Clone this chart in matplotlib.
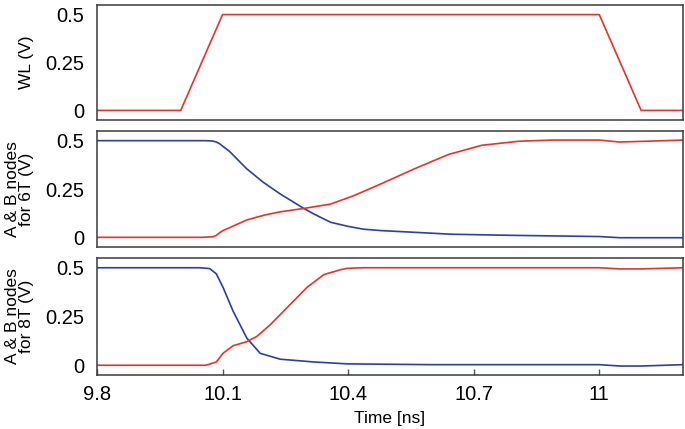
import matplotlib.pyplot as plt

plt.rcParams['font.family'] = ['Liberation Sans', 'DejaVu Sans']

# word line pulse
wl_t = [9.8, 10.0, 10.1, 11.0, 11.1, 11.2]
wl_v = [0, 0, 0.5, 0.5, 0, 0]

# 6T cell nodes
a6_t = [9.8, 10.06, 10.077, 10.085, 10.093, 10.101, 10.117, 10.13, 10.158, 10.197, 10.238, 10.293, 10.317, 10.358, 10.399, 10.437, 10.478, 10.558, 10.647, 10.8, 11.0, 11.05, 11.2]
a6_v = [0.5, 0.5, 0.498, 0.493, 0.484, 0.47, 0.444, 0.415, 0.354, 0.285, 0.224, 0.151, 0.122, 0.078, 0.057, 0.042, 0.035, 0.026, 0.016, 0.01, 0.004, -0.002, -0.002]
b6_t = [9.8, 10.05, 10.077, 10.085, 10.093, 10.101, 10.117, 10.158, 10.2, 10.238, 10.293, 10.358, 10.413, 10.478, 10.558, 10.639, 10.719, 10.808, 10.887, 11.0, 11.048, 11.127, 11.2]
b6_v = [0, 0, 0.003, 0.01, 0.024, 0.035, 0.05, 0.09, 0.115, 0.132, 0.149, 0.172, 0.215, 0.276, 0.354, 0.428, 0.476, 0.497, 0.503, 0.503, 0.493, 0.498, 0.503]

# 8T cell nodes
a8_t = [9.8, 10.045, 10.069, 10.085, 10.101, 10.125, 10.158, 10.19, 10.238, 10.317, 10.399, 10.6, 11.0, 11.05, 11.1, 11.2]
a8_v = [0.5, 0.5, 0.496, 0.469, 0.4, 0.278, 0.139, 0.061, 0.031, 0.017, 0.007, 0.003, 0.003, -0.004, -0.004, 0.003]
b8_t = [9.8, 10.06, 10.085, 10.101, 10.125, 10.158, 10.182, 10.214, 10.254, 10.302, 10.342, 10.382, 10.398, 10.437, 11.0, 11.05, 11.1, 11.2]
b8_v = [0, 0, 0.017, 0.061, 0.1, 0.121, 0.148, 0.208, 0.295, 0.4, 0.465, 0.49, 0.497, 0.5, 0.5, 0.494, 0.494, 0.5]

x_ticks = [9.8, 10.1, 10.4, 10.7, 11.0]
x_labels = ['9.8', '10.1', '10.4', '10.7', '11']
y_ticks = [0, 0.25, 0.5]
y_labels = ['0', '0.25', '0.5']

red = '#e8312a'
blue = '#2b40a0'

fig = plt.figure(figsize=(6.85, 4.29), dpi=100)
left, width = 97 / 685, 586 / 685
ax1 = fig.add_axes([left, 1 - 120 / 429, width, 115 / 429])
ax2 = fig.add_axes([left, 1 - 247 / 429, width, 116 / 429])
ax3 = fig.add_axes([left, 1 - 375 / 429, width, 117 / 429])

ax1.plot(wl_t, wl_v, color=red, lw=1.2)
ax2.plot(a6_t, a6_v, color=blue, lw=1.2)
ax2.plot(b6_t, b6_v, color=red, lw=1.2)
ax3.plot(a8_t, a8_v, color=blue, lw=1.2)
ax3.plot(b8_t, b8_v, color=red, lw=1.2)

ylabels = ['WL (V)', 'A & B nodes\nfor 6T (V)', 'A & B nodes\nfor 8T (V)']
for ax, lab in zip([ax1, ax2, ax3], ylabels):
    ax.set_xlim(9.8, 11.2)
    ax.set_ylim(-0.05, 0.55)
    ax.set_yticks(y_ticks)
    ax.set_yticklabels(y_labels)
    ax.tick_params(axis='y', length=0, pad=9, labelsize=14.5)
    ax.tick_params(axis='x', direction='in', length=4, width=1, pad=7, labelsize=14.5, color='#555555')
    ax.set_ylabel(lab, fontsize=12.5, linespacing=0.9)
    ax.yaxis.set_label_coords(-0.108, 0.5)
    for s in ax.spines.values():
        s.set_color('#3a3a3a')
        s.set_linewidth(1.1)
    ax.set_xticks(x_ticks)

ax1.tick_params(axis='x', length=0, labelbottom=False)
ax2.tick_params(axis='x', length=0, labelbottom=False)
ax3.set_xticklabels(x_labels)
ax3.set_xlabel('Time [ns]', fontsize=12.5, labelpad=5)

fig.savefig('out.png', dpi=100)
